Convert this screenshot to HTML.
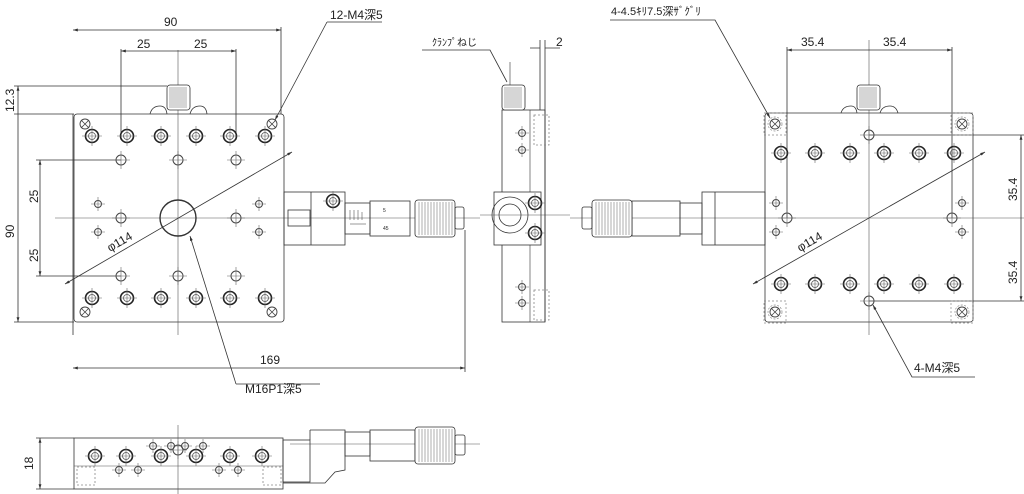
<!DOCTYPE html>
<html><head><meta charset="utf-8"><style>
body{margin:0;background:#fff}
svg{display:block}
text{font-family:"Liberation Sans","Noto Sans CJK JP",sans-serif;fill:#222}
</style></head><body>
<svg width="1024" height="494" viewBox="0 0 1024 494" xmlns="http://www.w3.org/2000/svg">
<defs>
<g id="hb"><circle r="6.5" fill="none" stroke="#222" stroke-width="1.6"/><circle r="3.5" fill="none" stroke="#555" stroke-width="0.8"/><path d="M-10 0H10M0-10V10" stroke="#666" stroke-width="0.6"/></g>
<g id="hm"><circle r="5" fill="none" stroke="#444" stroke-width="1"/><path d="M-9 0H9M0-9V9" stroke="#666" stroke-width="0.6"/></g>
<g id="hs"><circle r="3.5" fill="none" stroke="#444" stroke-width="1"/><path d="M-7 0H7M0-7V7" stroke="#666" stroke-width="0.6"/></g>
<g id="hx"><circle r="5" fill="none" stroke="#444" stroke-width="0.9"/><path d="M-4-4L4 4M-4 4L4-4" stroke="#444" stroke-width="0.8"/></g>
<g id="hc"><rect x="-11" y="-11" width="22" height="22" fill="none" stroke="#888" stroke-width="0.7" stroke-dasharray="2,2"/><circle r="7" fill="none" stroke="#888" stroke-width="0.7" stroke-dasharray="2,1.5"/><use href="#hx"/></g>
<g id="knurl"><rect x="0" y="0" width="40" height="37" rx="3" fill="#fff" stroke="#333"/><path d="M4 2V35M7 2V35M10 2V35M13 2V35M16 2V35M19 2V35M22 2V35M25 2V35M28 2V35M31 2V35M34 2V35M37 2V35" stroke="#777" stroke-width="0.6"/></g>
<g id="vknob"><rect x="0" y="0" width="23" height="25" rx="3" fill="#fff" stroke="#333"/><path d="M3 2V23M5 2V23M7 2V23M9 2V23M11 2V23M13 2V23M15 2V23M17 2V23M19 2V23" stroke="#777" stroke-width="0.6"/></g>
<marker id="ar" viewBox="0 0 10 10" refX="10" refY="5" markerWidth="6" markerHeight="6" orient="auto-start-reverse"><path d="M0 2L10 5L0 8z" fill="#333"/></marker>
</defs>
<g fill="none" stroke="#333" stroke-width="0.8">
<rect x="74" y="114" width="210" height="208" rx="3"/>
<path d="M178 50V335M55 218H480" stroke="#555" stroke-width="0.6"/>
<use href="#vknob" x="167" y="85"/>
<path d="M150 114Q152 106 160 106Q166 106 167 114M190 114Q192 106 200 106Q206 106 207 114"/>
<circle cx="178" cy="218" r="18" stroke-width="1.4"/>
<path d="M65 284L292 152" marker-start="url(#ar)" marker-end="url(#ar)"/>
<path d="M73 114V335M281 114V27M121 140V49M236 140V49M465 230V372"/>
<path d="M73 30H281" marker-start="url(#ar)" marker-end="url(#ar)"/>
<path d="M121 51H178M178 51H236" marker-start="url(#ar)" marker-end="url(#ar)"/>
<path d="M14 86H167M14 114H74M14 322H74M36 160H121M36 276H121"/>
<path d="M18 86V114M18 114V322" marker-start="url(#ar)" marker-end="url(#ar)"/>
<path d="M40 160V218M40 218V276" marker-start="url(#ar)" marker-end="url(#ar)"/>
<path d="M73 368H465" marker-start="url(#ar)" marker-end="url(#ar)"/>
<path d="M327 22H382M327 22L275 120" marker-end="url(#ar)"/>
<path d="M236 384L190 236" marker-end="url(#ar)"/>
<path d="M236 384H320"/>
<rect x="284" y="192" width="61" height="53"/>
<path d="M311 192V245"/>
<rect x="288" y="210" width="22" height="16"/>
<rect x="345" y="203" width="25" height="31"/>
<rect x="370" y="201" width="40" height="35"/>
<path d="M350 210V220M354 210V220M358 210V220M362 212V220M350 224H366" stroke-width="0.5"/>
<use href="#knurl" x="415" y="200"/>
<rect x="455" y="207" width="9" height="22" rx="2"/>
<rect x="502" y="110" width="43" height="212"/>
<path d="M530 110V322M510 62V110" stroke-width="0.6"/>
<use href="#vknob" x="502" y="85"/>
<rect x="494" y="192" width="47" height="53" fill="#fff"/>
<circle cx="510" cy="215" r="18"/><circle cx="510" cy="215" r="11"/>
<path d="M480 215H570" stroke="#555" stroke-width="0.6"/>
<path d="M540 40V110M545 40V322M530 48H540M545 48H560"/>
<path d="M422 50H490L507 82" />
<rect x="534" y="115" width="15" height="30" stroke="#888" stroke-dasharray="2,2"/>
<rect x="534" y="290" width="15" height="30" stroke="#888" stroke-dasharray="2,2"/>
<rect x="765" y="113" width="208" height="209" rx="3"/>
<path d="M869 40V335M570 218H1024" stroke="#555" stroke-width="0.6"/>
<use href="#vknob" x="857" y="85"/>
<path d="M841 113Q843 106 851 106Q856 106 857 113M880 113Q882 106 890 106Q896 106 898 113"/>
<path d="M753 284L985 152" marker-start="url(#ar)" marker-end="url(#ar)"/>
<path d="M787 218V47M952 218V47M869 135H1024M869 301H1024"/>
<path d="M787 50H869M869 50H952" marker-start="url(#ar)" marker-end="url(#ar)"/>
<path d="M1021 135V218M1021 218V301" marker-start="url(#ar)" marker-end="url(#ar)"/>
<path d="M610 20H715L770 118" marker-end="url(#ar)"/>
<path d="M975 377H912L873 305" marker-end="url(#ar)"/>
<rect x="702" y="192" width="63" height="53"/>
<path d="M715 192V245"/>
<rect x="680" y="203" width="22" height="31"/>
<rect x="632" y="201" width="48" height="35"/>
<use href="#knurl" x="592" y="200"/>
<rect x="582" y="207" width="10" height="22" rx="2"/>
<rect x="74" y="438" width="209" height="51"/>
<path d="M74 466H283M178 425V494M290 444H480" stroke="#555" stroke-width="0.6"/>
<path d="M36 438H74M36 489H74"/>
<path d="M40 438V489" marker-start="url(#ar)" marker-end="url(#ar)"/>
<rect x="283" y="440" width="27" height="42"/>
<path d="M310 430H345V470L335 472L325 483H283M310 430V440"/>
<rect x="345" y="432" width="25" height="24"/>
<rect x="370" y="430" width="45" height="31"/>
<use href="#knurl" x="415" y="427"/>
<rect x="455" y="435" width="10" height="20" rx="2"/>
<rect x="77" y="467" width="18" height="18" stroke="#888" stroke-dasharray="2,2"/>
<rect x="263" y="467" width="18" height="18" stroke="#888" stroke-dasharray="2,2"/>
</g>
<g>
<use href="#hb" x="92" y="136"/><use href="#hb" x="127" y="136"/><use href="#hb" x="161" y="136"/><use href="#hb" x="196" y="136"/><use href="#hb" x="230" y="136"/><use href="#hb" x="265" y="136"/>
<use href="#hb" x="92" y="298"/><use href="#hb" x="127" y="298"/><use href="#hb" x="161" y="298"/><use href="#hb" x="196" y="298"/><use href="#hb" x="230" y="298"/><use href="#hb" x="265" y="298"/>
<use href="#hm" x="121" y="160"/><use href="#hm" x="178" y="160"/><use href="#hm" x="236" y="160"/>
<use href="#hm" x="121" y="218"/><use href="#hm" x="236" y="218"/>
<use href="#hm" x="121" y="276"/><use href="#hm" x="178" y="276"/><use href="#hm" x="236" y="276"/>
<use href="#hs" x="98" y="204"/><use href="#hs" x="98" y="232"/><use href="#hs" x="259" y="204"/><use href="#hs" x="259" y="232"/>
<use href="#hx" x="85" y="124"/><use href="#hx" x="272" y="124"/><use href="#hx" x="85" y="312"/><use href="#hx" x="272" y="312"/>
<use href="#hb" x="333" y="201"/>
<use href="#hb" x="535" y="203"/><use href="#hb" x="535" y="233"/>
<use href="#hs" x="522" y="133"/><use href="#hs" x="522" y="150"/><use href="#hs" x="522" y="287"/><use href="#hs" x="522" y="303"/>
<use href="#hb" x="781" y="153"/><use href="#hb" x="815" y="153"/><use href="#hb" x="850" y="153"/><use href="#hb" x="884" y="153"/><use href="#hb" x="919" y="153"/><use href="#hb" x="954" y="153"/>
<use href="#hb" x="781" y="284"/><use href="#hb" x="815" y="284"/><use href="#hb" x="850" y="284"/><use href="#hb" x="884" y="284"/><use href="#hb" x="919" y="284"/><use href="#hb" x="954" y="284"/>
<use href="#hm" x="869" y="135"/><use href="#hm" x="869" y="301"/><use href="#hm" x="787" y="218"/><use href="#hm" x="952" y="218"/>
<use href="#hs" x="776" y="203"/><use href="#hs" x="776" y="232"/><use href="#hs" x="962" y="203"/><use href="#hs" x="962" y="232"/>
<use href="#hc" x="775" y="124"/><use href="#hc" x="962" y="124"/><use href="#hc" x="775" y="312"/><use href="#hc" x="962" y="312"/>
<use href="#hb" x="95" y="456"/><use href="#hb" x="126" y="456"/><use href="#hb" x="161" y="456"/><use href="#hb" x="196" y="456"/><use href="#hb" x="230" y="456"/><use href="#hb" x="262" y="456"/>
<use href="#hs" x="153" y="446"/><use href="#hs" x="171" y="446"/><use href="#hs" x="185" y="446"/><use href="#hs" x="203" y="446"/><use href="#hm" x="178" y="450"/>
<use href="#hs" x="119" y="470"/><use href="#hs" x="138" y="470"/><use href="#hs" x="219" y="470"/><use href="#hs" x="238" y="470"/>
</g>
<g font-size="12">
<text x="164" y="26">90</text>
<text x="137" y="48">25</text><text x="194" y="48">25</text>
<text x="330" y="19">12-M4深5</text>
<text transform="translate(14,112) rotate(-90)">12.3</text>
<text transform="translate(14,238) rotate(-90)">90</text>
<text transform="translate(38,203) rotate(-90)">25</text>
<text transform="translate(38,262) rotate(-90)">25</text>
<text transform="translate(110,252) rotate(-30)">φ114</text>
<text x="260" y="364">169</text>
<text x="245" y="393">M16P1深5</text>
<text x="432" y="46" font-size="10">ｸﾗﾝﾌﾟねじ</text>
<text x="556" y="46">2</text>
<text x="611" y="15" font-size="11">4-4.5ｷﾘ7.5深ｻﾞｸﾞﾘ</text>
<text x="801" y="46">35.4</text><text x="883" y="46">35.4</text>
<text transform="translate(1017,201) rotate(-90)">35.4</text>
<text transform="translate(1017,284) rotate(-90)">35.4</text>
<text transform="translate(800,252) rotate(-30)">φ114</text>
<text x="914" y="372">4-M4深5</text>
<text transform="translate(33,470) rotate(-90)">18</text>
<text x="383" y="212" font-size="5">5</text><text x="383" y="230" font-size="5">45</text>
</g>
</svg>
</body></html>
